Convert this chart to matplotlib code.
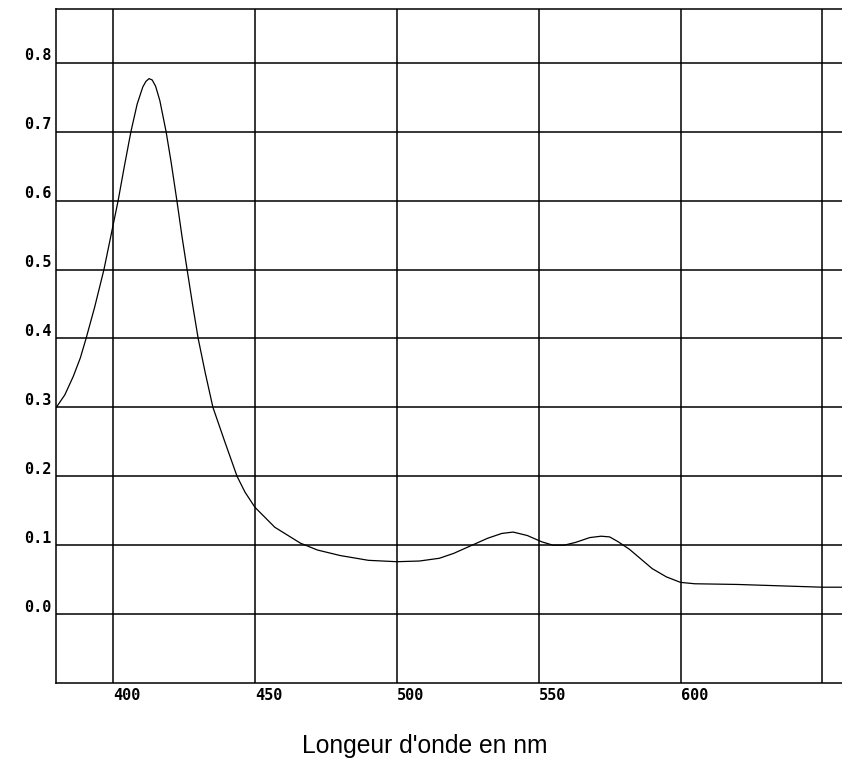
import matplotlib
matplotlib.use("Agg")
import matplotlib.pyplot as plt

# absorption spectrum
wavelength = [380, 383, 386, 388.5, 390.5, 393.5, 396.8, 399.3, 401.8, 404, 406.3,
              408.5, 410.5, 411.6, 412.7, 413.8, 415, 416.5, 418.7, 420.5, 422.5, 424.3, 426.1,
              428, 430, 432.5, 435.2, 439.4, 443.7, 446.5, 450, 457, 466, 472, 480, 490,
              500, 508, 515, 520, 526, 532, 537, 541, 546, 551, 555, 559, 563, 568,
              572, 575, 578, 582, 586, 590, 595, 600, 605, 620, 635, 650, 658]
absorbance = [0.30, 0.318, 0.345, 0.372, 0.40, 0.445, 0.50, 0.55, 0.60, 0.65, 0.70,
              0.74, 0.765, 0.773, 0.777, 0.775, 0.766, 0.745, 0.70, 0.655, 0.60, 0.548, 0.50,
              0.45, 0.40, 0.35, 0.30, 0.25, 0.20, 0.177, 0.155, 0.126, 0.103, 0.093, 0.085, 0.078,
              0.076, 0.077, 0.081, 0.088, 0.099, 0.110, 0.117, 0.119, 0.114, 0.105, 0.100, 0.100, 0.104, 0.111,
              0.113, 0.112, 0.105, 0.094, 0.080, 0.066, 0.054, 0.046, 0.044, 0.043, 0.041, 0.039, 0.039]

x_ticks = [400, 450, 500, 550, 600, 650]
x_tick_labels = ["400", "450", "500", "550", "600", ""]
y_ticks = [0.0, 0.1, 0.2, 0.3, 0.4, 0.5, 0.6, 0.7, 0.8]
y_tick_labels = ["0.0", "0.1", "0.2", "0.3", "0.4", "0.5", "0.6", "0.7", "0.8"]
x_label = "Longeur d'onde en nm"

fig = plt.figure(figsize=(8.42, 7.62), dpi=100)
ax = fig.add_axes([56 / 842, 79 / 762, 786 / 842, 674 / 762])

ax.plot(wavelength, absorbance, color="black", lw=0.9)
ax.set_xlim(379.9, 656.9)
ax.set_ylim(-0.1, 0.878)

ax.set_xticks(x_ticks)
ax.set_yticks(y_ticks)
ax.set_xticklabels([])
ax.set_yticklabels([])
ax.tick_params(length=0)
ax.grid(True, color="black", lw=1.1)
ax.set_axisbelow(True)
for side in ["left", "bottom", "top"]:
    ax.spines[side].set_linewidth(1.1)
ax.spines["right"].set_visible(False)

lab_font = dict(family="DejaVu Sans Mono", weight="bold", fontsize=11)
for y, t in zip(y_ticks, y_tick_labels):
    ax.annotate(t, xy=(0, y), xycoords=("axes fraction", "data"),
                xytext=(-3, 5), textcoords="offset points",
                ha="right", va="center", **lab_font)
for x, t in zip(x_ticks, x_tick_labels):
    ax.annotate(t, xy=(x, 0), xycoords=("data", "axes fraction"),
                xytext=(0, -9), textcoords="offset points",
                ha="left", va="center", **lab_font)

fig.text(425 / 842, 1 - 753 / 762, x_label, ha="center", va="baseline",
         family="Liberation Sans", fontsize=17.7)

fig.savefig("out.png", dpi=100)
